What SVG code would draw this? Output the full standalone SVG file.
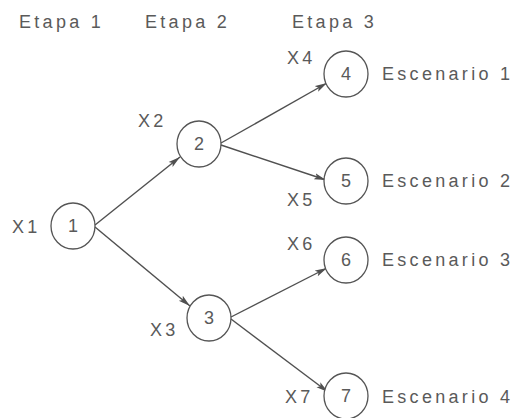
<svg xmlns="http://www.w3.org/2000/svg" width="518" height="418" viewBox="0 0 518 418">
  <style>
    .lbl { font-family: "Liberation Sans", Arial, sans-serif; font-size: 18px; letter-spacing: 3.3px; fill: #5a5a5a; }
    .num { font-family: "Liberation Sans", Arial, sans-serif; font-size: 18px; fill: #5a5a5a; text-anchor: middle; }
    .node ellipse { fill: #ffffff; stroke: #555555; stroke-width: 1.3; }
    .edge { stroke: #505050; stroke-width: 1.4; fill: none; marker-end: url(#arrow); }
  </style>
  <defs>
    <marker id="arrow" markerUnits="userSpaceOnUse" markerWidth="13" markerHeight="8" refX="12" refY="4" orient="auto">
      <path d="M0,0.8 L12,4 L0,7.2 L2.5,4 Z" fill="#505050"/>
    </marker>
  </defs>
  <rect width="518" height="418" fill="#ffffff"/>

  <!-- stage headers -->
  <g id="headers">
    <text class="lbl" x="19" y="28">Etapa 1</text>
    <text class="lbl" x="145" y="28">Etapa 2</text>
    <text class="lbl" x="292" y="28">Etapa 3</text>
  </g>

  <!-- connectors -->
  <g id="connectors">
    <line class="edge" x1="95" y1="225" x2="180" y2="157"/>
    <line class="edge" x1="95" y1="227" x2="190" y2="306"/>
    <line class="edge" x1="221" y1="143" x2="327" y2="83"/>
    <line class="edge" x1="221" y1="145" x2="326" y2="180"/>
    <line class="edge" x1="231" y1="317" x2="327" y2="268"/>
    <line class="edge" x1="231" y1="319" x2="328" y2="392"/>
  </g>

  <!-- decision nodes -->
  <g id="node1" class="node">
    <ellipse cx="73" cy="226" rx="22" ry="23"/>
    <text class="num" x="73" y="232">1</text>
    <text class="lbl" x="12" y="233">X1</text>
  </g>
  <g id="node2" class="node">
    <ellipse cx="199" cy="144" rx="22" ry="23"/>
    <text class="num" x="199" y="150">2</text>
    <text class="lbl" x="138" y="127">X2</text>
  </g>
  <g id="node3" class="node">
    <ellipse cx="209" cy="318" rx="22" ry="23"/>
    <text class="num" x="209" y="324">3</text>
    <text class="lbl" x="150" y="336">X3</text>
  </g>
  <g id="node4" class="node">
    <ellipse cx="346" cy="74" rx="22" ry="23"/>
    <text class="num" x="346" y="80">4</text>
    <text class="lbl" x="287" y="64">X4</text>
    <text class="lbl" x="382" y="80">Escenario 1</text>
  </g>
  <g id="node5" class="node">
    <ellipse cx="346" cy="181" rx="22" ry="23"/>
    <text class="num" x="346" y="187">5</text>
    <text class="lbl" x="287" y="206">X5</text>
    <text class="lbl" x="382" y="187">Escenario 2</text>
  </g>
  <g id="node6" class="node">
    <ellipse cx="346" cy="260" rx="22" ry="23"/>
    <text class="num" x="346" y="266">6</text>
    <text class="lbl" x="287" y="250">X6</text>
    <text class="lbl" x="382" y="266">Escenario 3</text>
  </g>
  <g id="node7" class="node">
    <ellipse cx="346" cy="396" rx="22" ry="23"/>
    <text class="num" x="346" y="402">7</text>
    <text class="lbl" x="285" y="403">X7</text>
    <text class="lbl" x="382" y="403">Escenario 4</text>
  </g>
</svg>
